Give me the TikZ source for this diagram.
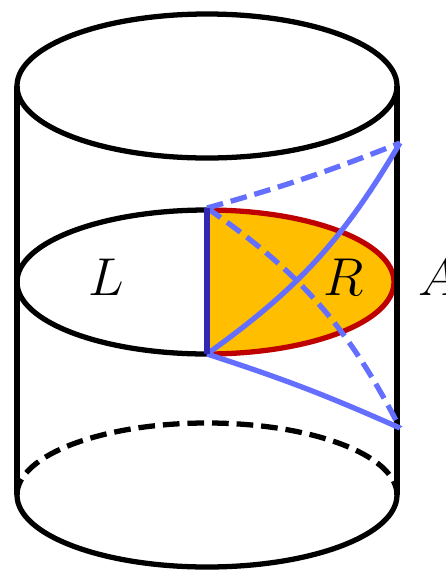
\documentclass[tikz,border=0pt]{standalone}
\usepackage{amsmath,graphicx}
\usepackage{xcolor}
\definecolor{HorizonBlue}{RGB}{100,110,255}
\definecolor{CutBlue}{RGB}{50,40,180}
\definecolor{WedgeRed}{RGB}{190,0,0}
\definecolor{WedgeOrange}{RGB}{255,191,0}
\usetikzlibrary{positioning,arrows.meta,calc}
\newcommand{\biglab}[1]{\scalebox{1.22}{\Huge$#1$}}

\begin{document}
\begin{tikzpicture}[
    x=0.02cm, y=-0.02cm,
    cyl/.style={draw=black, line width=3pt},
    hor/.style={draw=HorizonBlue, line width=3pt},
    dsh/.style={dash pattern=on 9.5pt off 4.5pt},
    lab/.style={inner sep=0pt}
]
    \useasboundingbox (0,0) rectangle (446,572);
    % wedge
    \fill[WedgeOrange] (207,210) arc[start angle=90, end angle=-90, x radius=187, y radius=-72] -- cycle;
    \draw[draw=WedgeRed, line width=3pt] (207,210) arc[start angle=90, end angle=-90, x radius=187, y radius=-72];
    % cylinder
    \draw[cyl] (207,86) ellipse[x radius=190, y radius=72];
    \draw[cyl] (17,86) -- (17,495);
    \draw[cyl] (397,86) -- (397,495);
    \draw[cyl] (207,210) arc[start angle=90, end angle=270, x radius=190, y radius=-72];
    \draw[cyl, dsh] (17,495) arc[start angle=180, end angle=360, x radius=190, y radius=72];
    \draw[cyl] (17,495) arc[start angle=180, end angle=0, x radius=190, y radius=72];
    % corners of the wedge
    \coordinate (tipU) at (207,208);
    \coordinate (tipD) at (207,354);
    \coordinate (bdyU) at (400,143);
    \coordinate (bdyD) at (400,428);
    \draw[hor, dsh] (tipU) to[bend right=3] (bdyU);
    \draw[hor, dsh] (tipU) to[bend left=14] (bdyD);
    \draw[hor] (tipD) to[bend right=12] (bdyU);
    \draw[hor] (tipD) to[bend right=-3] (bdyD);
    \draw[draw=CutBlue, line width=3pt] (tipU) -- (tipD);
    \node[lab] (L) at (106,277) {\biglab{L}};
    \node[lab] (R) at (344,277) {\biglab{R}};
    \node[lab, anchor=west] (A) at (418,277) {\biglab{A}};
\end{tikzpicture}
\end{document}
